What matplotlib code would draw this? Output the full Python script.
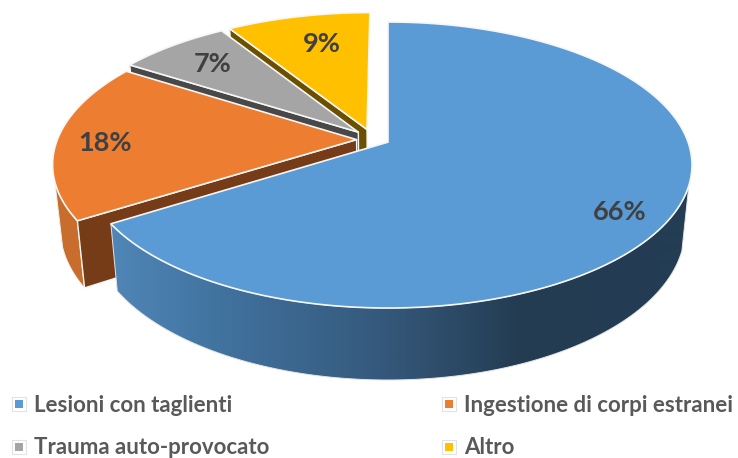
import numpy as np
import matplotlib
matplotlib.use("Agg")
import matplotlib.pyplot as plt
from matplotlib.patches import Polygon, Rectangle
from matplotlib.colors import LinearSegmentedColormap

categories = ["Lesioni con taglienti", "Ingestione di corpi estranei",
              "Trauma auto-provocato", "Altro"]
values = [66, 18, 7, 9]
labels = ["66%", "18%", "7%", "9%"]

colors = ["#5B9BD5", "#ED7D31", "#A5A5A5", "#FFC000"]
wall_colors = ["#2F5577", "#763C18", "#484848", "#6B5000"]
explode_u = [0.0, -0.105, -0.10, -0.071]
explode_v = [0.0, 0.018, 0.072, 0.092]
label_r = [0.83, 0.83, 0.70, 0.70]
label_off = [(-1, 10), (-3, 3), (-12, -6), (5, -3)]

K = 0.16
S = np.sqrt(1 - K ** 2)
CX = 388
TOP = (304, 143, 165)
BOT = (297, 151, 229)
RIM_FROM = np.radians(107)
RIM_TO = np.radians(253)
EDGE = "#F6F6F6"


def project(u, v, level):
    a, b, cy = level
    d = 1 + K * np.asarray(v)
    return CX + a * np.asarray(u) * S / d, cy - b * (np.asarray(v) + K) / d


fig = plt.figure(figsize=(7.38, 4.58), dpi=100)
ax = fig.add_axes([0, 0, 1, 1])
ax.set_xlim(0, 738)
ax.set_ylim(458, 0)
ax.axis("off")

fractions = np.array(values) / sum(values)
ends = np.cumsum(fractions) * 2 * np.pi
starts = ends - fractions * 2 * np.pi
blue_rim = LinearSegmentedColormap.from_list(
    "rim", ["#5088B9", "#3F6F9A", "#35597C", "#243C52", "#233D54"], N=256)

for i in [3, 2, 1, 0]:
    th = np.linspace(starts[i], ends[i], 300)
    eu, ev = explode_u[i], explode_v[i]
    u, v = np.sin(th) + eu, np.cos(th) + ev
    xt, yt = project(u, v, TOP)
    xb, yb = project(u, v, BOT)
    ax0, ay0 = project(eu, ev, TOP)
    bx0, by0 = project(eu, ev, BOT)
    order = 10 + (3 - i) * 10

    # outer rim, only where it faces the viewer
    mask = (th >= RIM_FROM) & (th <= RIM_TO)
    if mask.any():
        rim = np.vstack([np.column_stack([xt[mask], yt[mask]]),
                         np.column_stack([xb[mask], yb[mask]])[::-1]])
        if i == 0:
            patch = Polygon(rim, closed=True, fc="none", ec="#E4E4E4", lw=0.7, zorder=order + 1)
            ax.add_patch(patch)
            grad = np.clip((np.arange(738) - 100) / 560, 0, 1)[None, :]
            im = ax.imshow(grad, cmap=blue_rim, vmin=0, vmax=1, extent=(0, 738, 458, 0),
                           aspect="auto", zorder=order, interpolation="bilinear")
            im.set_clip_path(patch)
        else:
            ax.add_patch(Polygon(rim, closed=True, fc="#C96D2C", ec="#EFEFEF", lw=0.7,
                                 zorder=order))

    # cut face seen from the front
    if i != 0:
        ax.add_patch(Polygon([(ax0, ay0), (xt[0], yt[0]), (xb[0], yb[0]), (bx0, by0)],
                             closed=True, fc=wall_colors[i], ec=EDGE, lw=1.0,
                             zorder=order + 1))

    # top surface
    ax.add_patch(Polygon(np.vstack([[ax0, ay0], np.column_stack([xt, yt])]), closed=True,
                         fc=colors[i], ec=EDGE, lw=1.2, joinstyle="round",
                         zorder=order + 2))

    mid = 0.5 * (starts[i] + ends[i])
    lx, ly = project(label_r[i] * np.sin(mid) + eu, label_r[i] * np.cos(mid) + ev, TOP)
    ox, oy = label_off[i]
    ax.text(lx + ox, ly + oy, labels[i], ha="center", va="center", family="Lato",
            weight="bold", fontsize=19.5, color="#404040", zorder=100)

ax.set_xlim(0, 738)
ax.set_ylim(458, 0)

leg_x = [19, 449, 19, 449]
leg_y = [404, 404, 447, 447]
for name, col, x, y in zip(categories, colors, leg_x, leg_y):
    ax.add_patch(Rectangle((x - 7, y - 7), 14, 14, fc="white", ec="#E2E2E2", lw=0.8, zorder=5))
    ax.add_patch(Rectangle((x - 4, y - 4), 8, 8, fc=col, ec="none", zorder=6))
    ax.text(x + 15, y + 1, name, ha="left", va="center", family="Lato", weight="bold",
            fontsize=16, color="#595959")

fig.savefig("out.png", dpi=100)
